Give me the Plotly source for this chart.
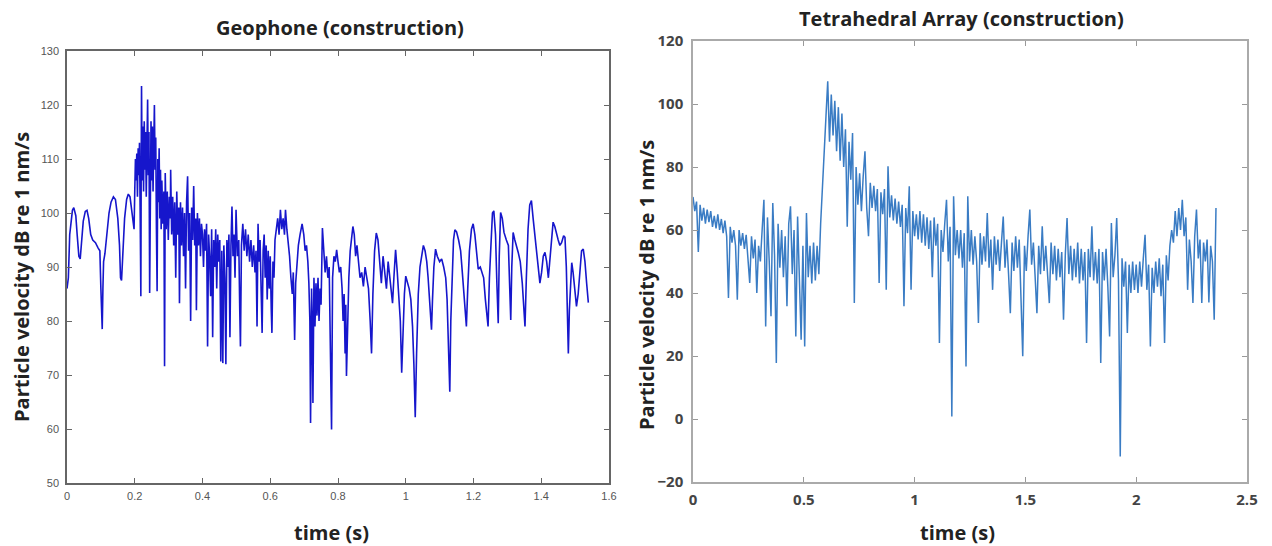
import plotly.graph_objects as go

# ---------------- Geophone (construction) ----------------
geo_t = [
    0.000, 0.004, 0.008, 0.012, 0.016, 0.020, 0.026, 0.030, 0.035, 0.039,
    0.043, 0.048, 0.054, 0.059, 0.064, 0.070, 0.076, 0.084, 0.092, 0.097,
    0.100, 0.102, 0.104, 0.106, 0.108, 0.112, 0.118, 0.124, 0.130, 0.137,
    0.143, 0.150, 0.155, 0.158, 0.161, 0.164, 0.170, 0.176, 0.181, 0.186,
    0.191, 0.195, 0.198,
    0.200, 0.202, 0.204, 0.206, 0.208, 0.210, 0.212, 0.214, 0.216, 0.218,
    0.219, 0.220, 0.222, 0.224, 0.226, 0.228, 0.230, 0.232, 0.234, 0.236,
    0.238, 0.240, 0.242, 0.244, 0.246, 0.248, 0.250, 0.252, 0.254, 0.256,
    0.258, 0.260, 0.262, 0.264, 0.266, 0.268, 0.270, 0.272, 0.274, 0.276,
    0.278,
    0.280, 0.283, 0.286, 0.288, 0.290, 0.293, 0.296, 0.299, 0.302, 0.305,
    0.306, 0.309, 0.312, 0.315, 0.318, 0.321, 0.324, 0.327, 0.330, 0.332,
    0.335, 0.338, 0.341, 0.344, 0.347, 0.350, 0.353, 0.356, 0.359, 0.362,
    0.365, 0.368, 0.371, 0.374, 0.377, 0.380, 0.382, 0.385, 0.388, 0.391,
    0.394, 0.397, 0.400,
    0.403, 0.406, 0.409, 0.412, 0.415, 0.418, 0.421, 0.424, 0.427, 0.430,
    0.433, 0.436, 0.439, 0.442, 0.445, 0.448, 0.451, 0.454, 0.457, 0.460,
    0.463, 0.466, 0.469, 0.472, 0.475, 0.478, 0.481, 0.484, 0.487, 0.490,
    0.493, 0.496,
    0.499, 0.503, 0.507, 0.510, 0.512, 0.515, 0.519, 0.523, 0.527, 0.531,
    0.535, 0.539, 0.543, 0.547, 0.551, 0.555, 0.558, 0.561, 0.564, 0.567,
    0.570, 0.573, 0.576, 0.579, 0.582, 0.585, 0.588, 0.591, 0.594, 0.597,
    0.600, 0.603, 0.605, 0.608, 0.611, 0.614,
    0.618, 0.622, 0.626, 0.630, 0.634, 0.638, 0.642, 0.645, 0.649, 0.653,
    0.657, 0.661, 0.665, 0.668, 0.672, 0.675, 0.679, 0.683, 0.688, 0.694,
    0.699, 0.703, 0.707, 0.711, 0.714, 0.717, 0.719, 0.722, 0.724, 0.726,
    0.729, 0.732, 0.735, 0.738, 0.741, 0.744, 0.747, 0.750, 0.754,
    0.758, 0.762, 0.766, 0.770, 0.774, 0.778, 0.781, 0.784, 0.788, 0.792,
    0.796, 0.800, 0.804, 0.808, 0.812, 0.815, 0.818, 0.821, 0.823, 0.825,
    0.828, 0.832, 0.836, 0.840, 0.844, 0.848, 0.852, 0.856, 0.860, 0.865,
    0.870, 0.875, 0.880, 0.885, 0.890, 0.895, 0.899, 0.903, 0.908, 0.913,
    0.918, 0.923, 0.928, 0.933, 0.938, 0.943, 0.948, 0.953, 0.958, 0.961,
    0.965, 0.970, 0.975, 0.980, 0.984, 0.988, 0.992, 0.996, 1.000, 1.005,
    1.010, 1.015, 1.020, 1.024, 1.028, 1.032, 1.037, 1.042, 1.047, 1.052,
    1.057, 1.062,
    1.066, 1.070, 1.073, 1.076, 1.079, 1.083, 1.088, 1.093, 1.100, 1.106,
    1.112, 1.118, 1.122, 1.126, 1.130, 1.133, 1.137, 1.141, 1.145, 1.150,
    1.156, 1.162, 1.167, 1.172, 1.176, 1.179, 1.183, 1.188, 1.194, 1.199,
    1.204, 1.209, 1.214, 1.220, 1.225, 1.230, 1.235, 1.240, 1.243, 1.247,
    1.252, 1.256, 1.260, 1.265, 1.269, 1.273, 1.276, 1.280, 1.285, 1.290,
    1.297, 1.303, 1.307, 1.310, 1.313, 1.317, 1.322, 1.327, 1.332, 1.338,
    1.344, 1.349, 1.352, 1.356, 1.361, 1.366, 1.371, 1.376, 1.381, 1.385,
    1.390, 1.396, 1.401, 1.406, 1.411, 1.416, 1.421, 1.426, 1.431, 1.435,
    1.440, 1.445, 1.450, 1.455, 1.460, 1.466, 1.470, 1.474, 1.477, 1.480,
    1.483, 1.487, 1.490, 1.494, 1.498, 1.504, 1.509, 1.514, 1.519, 1.524,
    1.529, 1.534, 1.539,
]
geo_v = [
    86, 88, 96, 99, 100.5, 101, 99.5, 96, 92, 91.5,
    95, 98.5, 100.3, 100.5, 99, 96, 95, 94.5, 93.5, 93,
    86, 79, 78.5, 86, 91, 92.5, 96, 100, 102, 103,
    102.5, 99, 94, 88, 87.5, 92, 99, 102.5, 103.5, 103,
    100.5, 98.5, 97,
    104, 110, 106, 111, 103, 112, 107, 113, 100, 84.6,
    108, 123.5, 106, 116, 104, 117, 108, 115, 103, 117,
    121, 107, 115, 85.2, 112, 117, 106, 116, 104, 118,
    120, 108, 114, 97, 85.5, 110, 102, 112, 99, 108,
    97,
    106, 98, 104, 71.6, 107.4, 97, 104, 95, 103, 99,
    108, 96, 103, 94, 102, 88, 104, 96, 101, 83.3,
    102, 94, 101, 92, 100, 86, 102, 106.8, 93, 100,
    80, 101, 95, 105, 94, 99, 82, 100, 94, 99,
    92, 98, 96,
    90, 97, 93, 98, 75.3, 96, 92, 84.6, 97, 77,
    95, 90, 97, 86, 96, 91, 95, 72.5, 93, 72.2,
    94, 88, 72, 95, 90, 96, 77, 94, 101.2, 92,
    96, 88,
    100.6, 92, 95, 82, 75.3, 94, 98, 93, 97, 92,
    96, 91, 95, 90, 94, 89, 93, 79, 98, 91,
    95, 86, 77.8, 93, 96, 88, 94, 84, 93, 86,
    92, 82, 77.8, 91, 88, 95,
    97, 99, 96, 100.6, 97, 99, 96, 100.6, 97, 95,
    92, 88, 85, 89, 76.5, 87, 90, 94, 96, 98,
    96, 93, 94, 91, 87, 80, 61.1, 86, 80, 64.8,
    88, 79, 87, 81, 88, 80, 86, 83, 97.2,
    92, 89, 92, 88, 90, 75, 59.9, 88, 92, 91,
    93.2, 91, 89, 90, 86, 80, 85, 74, 83, 69.8,
    80, 88, 93, 95, 97.5, 96, 92, 94, 91, 88,
    89, 86.4, 90, 88, 86, 80, 74, 85, 93, 96.3,
    95, 91, 87, 92, 89, 86, 91, 88, 85, 83.3,
    88, 93.2, 89, 84.6, 80, 70.4, 79, 85, 88.3, 87,
    86, 84, 79, 72, 62.2, 74, 85, 90, 92.5, 94,
    93, 91,
    88, 84, 80, 78.4, 84, 90, 93.3, 92, 91, 91.5,
    90, 88, 84, 75, 66.9, 80, 90, 95, 96.9, 96.5,
    95, 93, 89, 84, 80, 79, 86, 93, 97, 98,
    96, 92, 89.6, 90, 89, 88, 84, 80, 79, 88,
    96, 100, 100.4, 96, 87, 79.6, 92, 100.1, 99, 96.4,
    95, 94, 86, 80.2, 90, 96.4, 95, 94, 92.7, 91,
    87, 82, 79, 88, 97, 101.5, 102.3, 99, 96, 94,
    90, 87, 89, 92, 92.7, 91, 88, 92, 96, 98.3,
    97.5, 96, 95, 94, 94.5, 95.8, 95.5, 90, 80, 74,
    82, 89, 90.8, 89, 86, 82.7, 85, 90, 93, 93.3,
    91, 87, 83.4,
]

# ---------------- Tetrahedral Array (construction) ----------------
tet_dt = 0.008  # sampling step of the read-off points (s)
tet_v = [
    70.5, 66, 69, 53, 68, 63, 67, 62, 66.5, 62.5,
    66, 61, 64.5, 60.5, 65, 60, 63.5, 59, 63, 58,
    38.4, 61, 56, 60, 55, 37.9, 60, 55, 59, 54,
    58.5, 52, 43.2, 58, 51, 57, 40, 55, 50, 60,
    69.6, 29.4, 64, 50, 32.6, 68.6, 52, 17.8, 62, 48,
    60, 45, 58, 35.8, 62, 67.5, 46, 60, 26.2, 64.3,
    40, 25.2, 55, 23, 65.4, 45, 55, 43, 56, 44,
    55, 46, 62, 75, 84, 96, 107.2, 88, 103, 90,
    101, 85, 99, 82, 97, 80, 92, 61, 88, 76,
    90.8, 36.8, 80, 68, 78, 66, 77, 85, 67, 58,
    75, 67, 74, 66, 73, 43.2, 72, 65, 73, 41,
    80.2, 64, 71, 63, 70, 62, 69, 61, 68, 35.8,
    67, 59, 73.9, 41, 66, 58, 65, 57, 66, 56,
    65, 55, 64, 54, 63, 45, 64, 55, 62, 24.1,
    60, 53, 62, 69.6, 50, 61, 0.8, 70.7, 52, 60,
    51, 60, 48, 59, 16.7, 70.7, 50, 60, 49, 58,
    50, 30.5, 59, 49, 58, 50, 65.4, 48, 57, 41,
    58, 49, 57, 47, 56, 64.3, 48, 57, 46, 33.6,
    56, 47, 58, 48, 57, 40, 19.9, 55, 47, 58,
    66.5, 49, 56, 45, 33.6, 55, 46, 61.2, 47, 55,
    45, 36.8, 56, 46, 55, 44, 54, 45, 53, 31.5,
    52, 63.8, 46, 55, 44, 54, 45, 56, 43, 54,
    44, 53, 24.1, 54, 45, 61.2, 44, 53, 43, 54,
    17.8, 53, 44, 54, 42, 26.2, 62.2, 45, 52, 63.8,
    44, -11.9, 51, 42, 50, 27.3, 49, 40, 50, 41,
    49, 40, 50, 42, 51, 58.5, 41, 49, 23, 48,
    40, 50, 42, 51, 39, 49, 24.1, 52, 44, 55,
    60, 56, 66, 58, 67, 60, 69.6, 58, 64, 41,
    57, 50, 36.8, 58, 66.5, 51, 57, 36.8, 56, 50,
    57, 37, 55, 50, 31.5, 67,
]
tet_t = [i * tet_dt for i in range(len(tet_v))]

# axis tick values
geo_xticks = [0, 0.2, 0.4, 0.6, 0.8, 1, 1.2, 1.4, 1.6]
geo_yticks = [50, 60, 70, 80, 90, 100, 110, 120, 130]
tet_xticks = [0, 0.5, 1, 1.5, 2, 2.5]
tet_yticks = [-20, 0, 20, 40, 60, 80, 100, 120]

W, H = 1272, 546

fig = go.Figure()
fig.add_trace(go.Scatter(x=geo_t, y=geo_v, mode="lines",
                         line=dict(color="#1616cc", width=1.6),
                         xaxis="x", yaxis="y", showlegend=False))
fig.add_trace(go.Scatter(x=tet_t, y=tet_v, mode="lines",
                         line=dict(color="#3a7cc4", width=1.5),
                         xaxis="x2", yaxis="y2", showlegend=False))

left_tick_font = dict(family="Liberation Sans Narrow, Arial Narrow, sans-serif",
                      size=11, color="#555555")
right_tick_font = dict(family="Open Sans, sans-serif", size=15,
                       color="#444444", weight="bold")

common = dict(showline=True, mirror="allticks", ticks="inside",
              showgrid=False, zeroline=False, automargin=False)

fig.update_layout(
    width=W, height=H,
    margin=dict(l=0, r=0, t=0, b=0, autoexpand=False),
    paper_bgcolor="white", plot_bgcolor="white",
    xaxis=dict(domain=[67 / W, 609 / W], range=[0, 1.6], tickvals=geo_xticks,
               linecolor="#666666", linewidth=1.5, ticklen=5, tickcolor="#666666",
               tickfont=left_tick_font, anchor="y", ticklabelstandoff=2, **common),
    yaxis=dict(domain=[1 - 483 / H, 1 - 51 / H], range=[50, 130], tickvals=geo_yticks,
               linecolor="#666666", linewidth=1.5, ticklen=5, tickcolor="#666666",
               tickfont=left_tick_font, anchor="x", ticklabelstandoff=4, **common),
    xaxis2=dict(domain=[693 / W, 1247 / W], range=[0, 2.5], tickvals=tet_xticks,
                linecolor="#aaaaaa", linewidth=1.5, ticklen=5, tickcolor="#999999",
                tickfont=right_tick_font, anchor="y2", ticklabelstandoff=3, **common),
    yaxis2=dict(domain=[1 - 482 / H, 1 - 41 / H], range=[-20, 120], tickvals=tet_yticks,
                linecolor="#aaaaaa", linewidth=1.5, ticklen=5, tickcolor="#999999",
                tickfont=right_tick_font, anchor="x2", ticklabelstandoff=5, **common),
)

title_font = dict(family="Open Sans, sans-serif", size=20, color="#222222", weight="bold")
label_font = dict(family="Open Sans, sans-serif", size=20, color="#222222", weight="bold")

ann = [
    dict(text="Geophone (construction)", x=340 / W, y=1 - 27 / H, font=title_font),
    dict(text="Tetrahedral Array (construction)", x=961 / W, y=1 - 19 / H, font=title_font),
    dict(text="time (s)", x=331 / W, y=1 - 532 / H, font=label_font),
    dict(text="time (s)", x=957 / W, y=1 - 532 / H, font=label_font),
    dict(text="Particle velocity dB re 1 nm/s", x=21 / W, y=1 - 277 / H,
         font=label_font, textangle=-90),
    dict(text="Particle velocity dB re 1 nm/s", x=646 / W, y=1 - 285 / H,
         font=label_font, textangle=-90),
]
for a in ann:
    fig.add_annotation(xref="paper", yref="paper", showarrow=False,
                       xanchor="center", yanchor="middle", **a)

fig.write_html("out.html")
